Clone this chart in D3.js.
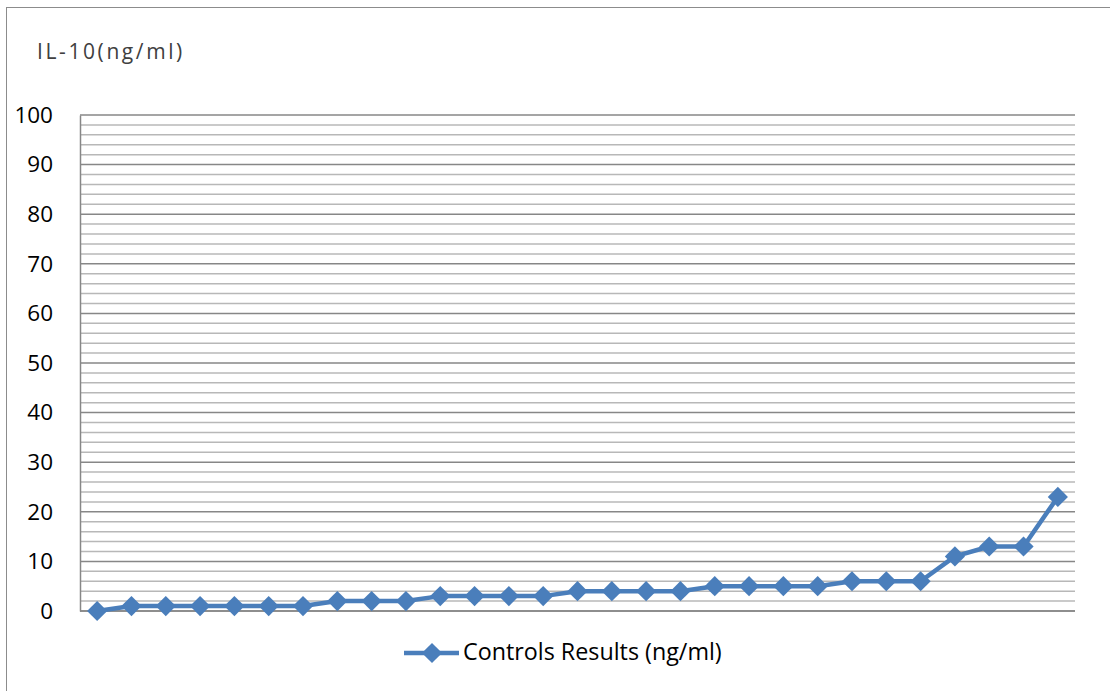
<!DOCTYPE html>
<html><head><meta charset="utf-8">
<script src="https://cdn.jsdelivr.net/npm/d3@7"></script>
<style>body{margin:0;background:#fff;} svg{display:block;font-family:"Open Sans",sans-serif;}</style>
</head><body>
<svg id="c" width="1110" height="691"></svg>
<script>
const categories = d3.range(1, 30).map(String);
const values = [0,1,1,1,1,1,1,2,2,2,3,3,3,3,4,4,4,4,5,5,5,5,6,6,6,11,13,13,23];
const yTicks = [0,10,20,30,40,50,60,70,80,90,100];
const seriesName = "Controls Results (ng/ml)";
const yTitle = "IL-10(ng/ml)";

const svg = d3.select("#c");
const L = 80, R = 1075, T = 115, B = 611;
const color = "#4a7ebb";

svg.append("rect").attr("x",6.5).attr("y",7.5).attr("width",1110).attr("height",700)
  .attr("fill","none").attr("stroke","#8c8c8c").attr("stroke-width",1);

const x = d3.scalePoint().domain(categories).range([L, R]).padding(0.5);
const y = d3.scaleLinear().domain([0,100]).range([B, T]);

// minor gridlines
const minor = d3.range(0, 101, 2).filter(v => v % 10 !== 0);
svg.append("g").selectAll("line").data(minor).join("line")
  .attr("x1",L).attr("x2",R).attr("y1",d=>y(d)).attr("y2",d=>y(d))
  .attr("stroke","#b8b8b8").attr("stroke-width",1.5);
// major gridlines
svg.append("g").selectAll("line").data(yTicks).join("line")
  .attr("x1",L).attr("x2",R).attr("y1",d=>y(d)).attr("y2",d=>y(d))
  .attr("stroke","#878787").attr("stroke-width",1.5);

// y axis
const ya = svg.append("g").attr("transform",`translate(${L},0)`)
  .call(d3.axisLeft(y).tickValues(yTicks).tickSize(0).tickPadding(27));
ya.select(".domain").attr("stroke","#878787").attr("stroke-width",1.5);
ya.selectAll("text").attr("font-size",22.5).attr("fill","#000").attr("font-family","'Open Sans', sans-serif");

// x axis line
svg.append("line").attr("x1",L).attr("x2",R).attr("y1",B).attr("y2",B)
  .attr("stroke","#878787").attr("stroke-width",1.5);

// line
const line = d3.line().x((d,i)=>x(categories[i])).y(d=>y(d));
svg.append("path").datum(values).attr("d",line).attr("fill","none")
  .attr("stroke",color).attr("stroke-width",4.5).attr("stroke-linejoin","round");

const diamond = d3.symbol().type(d3.symbolDiamond2).size(260);
svg.append("g").selectAll("path").data(values).join("path")
  .attr("d",diamond).attr("transform",(d,i)=>`translate(${x(categories[i])},${y(d)})`)
  .attr("fill",color);

// title
svg.append("text").attr("x",37).attr("y",59).text(yTitle)
  .attr("font-size",21).attr("fill","#404040").attr("letter-spacing",2.6);

// legend
svg.append("line").attr("x1",404).attr("x2",459).attr("y1",653).attr("y2",653)
  .attr("stroke",color).attr("stroke-width",4.5);
svg.append("path").attr("d",diamond).attr("transform","translate(432,653)").attr("fill",color);
svg.append("text").attr("x",463).attr("y",660).text(seriesName)
  .attr("font-size",23.3).attr("fill","#000");
</script>
</body></html>
